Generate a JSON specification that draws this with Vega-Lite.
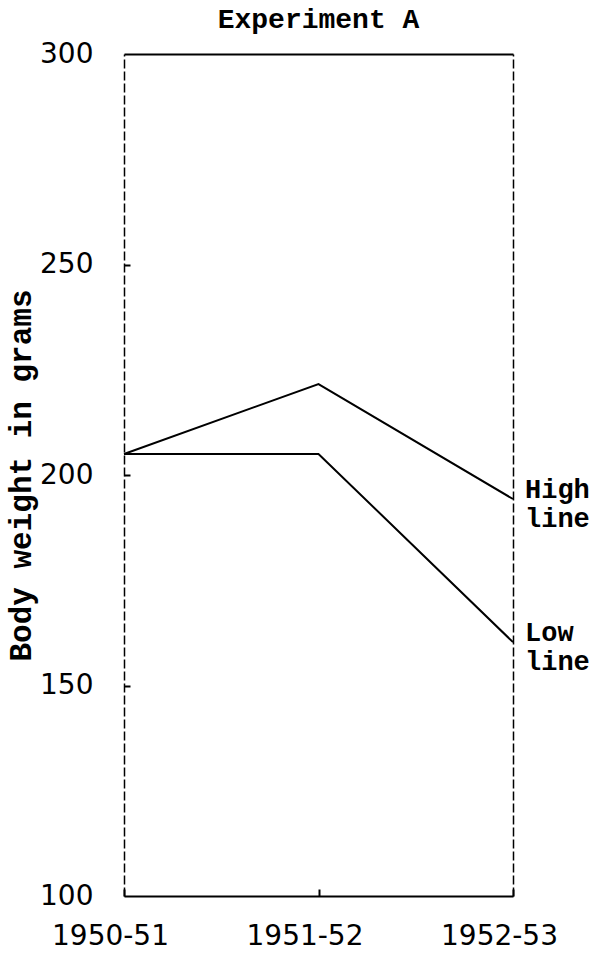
{
  "$schema": "https://vega.github.io/schema/vega-lite/v6.json",
  "autosize": "none",
  "width": 389,
  "height": 842,
  "padding": {"left": 124, "top": 54, "right": 89, "bottom": 63},
  "background": "white",
  "title": {
    "text": "Experiment A",
    "font": "Liberation Mono",
    "fontSize": 28,
    "fontWeight": "bold",
    "color": "black",
    "anchor": "middle",
    "offset": 6
  },
  "data": {
    "values": [
      {"period": "1950-51", "weight": 205, "series": "High line"},
      {"period": "1951-52", "weight": 221.6, "series": "High line"},
      {"period": "1952-53", "weight": 194.3, "series": "High line"},
      {"period": "1950-51", "weight": 205, "series": "Low line"},
      {"period": "1951-52", "weight": 205, "series": "Low line"},
      {"period": "1952-53", "weight": 160.3, "series": "Low line"}
    ]
  },
  "config": {"view": {"stroke": null}},
  "resolve": {"axis": {"x": "independent", "y": "independent"}},
  "layer": [
    {
      "mark": {"type": "line", "color": "black", "strokeWidth": 2},
      "encoding": {
        "x": {
          "field": "period",
          "type": "ordinal",
          "scale": {"type": "point", "padding": 0},
          "axis": {
            "orient": "bottom",
            "title": null,
            "labelAngle": 0,
            "labelFont": "DejaVu Sans",
            "labelFontSize": 28,
            "labelColor": "black",
            "labelPadding": 26,
            "labelOffset": -14,
            "domainColor": "black",
            "domainWidth": 2,
            "ticks": false
          }
        },
        "y": {
          "field": "weight",
          "type": "quantitative",
          "scale": {"domain": [100, 300], "nice": false, "zero": false},
          "axis": {
            "orient": "left",
            "title": "Body weight in grams",
            "titleFont": "Liberation Mono",
            "titleFontSize": 31,
            "titleFontWeight": "bold",
            "titleColor": "black",
            "titlePadding": 2,
            "values": [100, 150, 200, 250, 300],
            "grid": false,
            "labelFont": "DejaVu Sans",
            "labelFontSize": 28,
            "labelColor": "black",
            "labelPadding": 31,
            "domainColor": "black",
            "domainWidth": 1.5,
            "domainDash": [9, 3],
            "ticks": false
          }
        },
        "detail": {"field": "series"}
      }
    },
    {
      "transform": [{"filter": "datum.period === '1952-53'"}],
      "mark": {
        "type": "text",
        "align": "left",
        "baseline": "middle",
        "dx": 12,
        "dy": -9,
        "font": "Liberation Mono",
        "fontSize": 27,
        "fontWeight": "bold",
        "lineBreak": " ",
        "lineHeight": 29,
        "color": "black"
      },
      "encoding": {
        "x": {
          "field": "period",
          "type": "ordinal",
          "scale": {"type": "point", "padding": 0},
          "axis": {
            "orient": "top",
            "title": null,
            "labels": false,
            "ticks": false,
            "domainColor": "black",
            "domainWidth": 2
          }
        },
        "y": {
          "field": "weight",
          "type": "quantitative",
          "scale": {"domain": [100, 300], "nice": false, "zero": false},
          "axis": {
            "orient": "right",
            "title": null,
            "labels": false,
            "ticks": false,
            "grid": false,
            "domainColor": "black",
            "domainWidth": 1.5,
            "domainDash": [9, 3]
          }
        },
        "text": {"field": "series"}
      }
    },
    {
      "mark": {"type": "line", "opacity": 0},
      "encoding": {
        "x": {
          "field": "period",
          "type": "ordinal",
          "scale": {"type": "point", "padding": 0},
          "axis": {
            "orient": "bottom",
            "offset": -7,
            "title": null,
            "labels": false,
            "domain": false,
            "tickColor": "black",
            "tickWidth": 2,
            "tickSize": 7
          }
        },
        "y": {
          "field": "weight",
          "type": "quantitative",
          "scale": {"domain": [100, 300], "nice": false, "zero": false},
          "axis": {
            "orient": "left",
            "offset": -6,
            "title": null,
            "values": [150, 200, 250],
            "labels": false,
            "domain": false,
            "grid": false,
            "tickColor": "black",
            "tickWidth": 2,
            "tickSize": 6
          }
        },
        "detail": {"field": "series"}
      }
    }
  ]
}
